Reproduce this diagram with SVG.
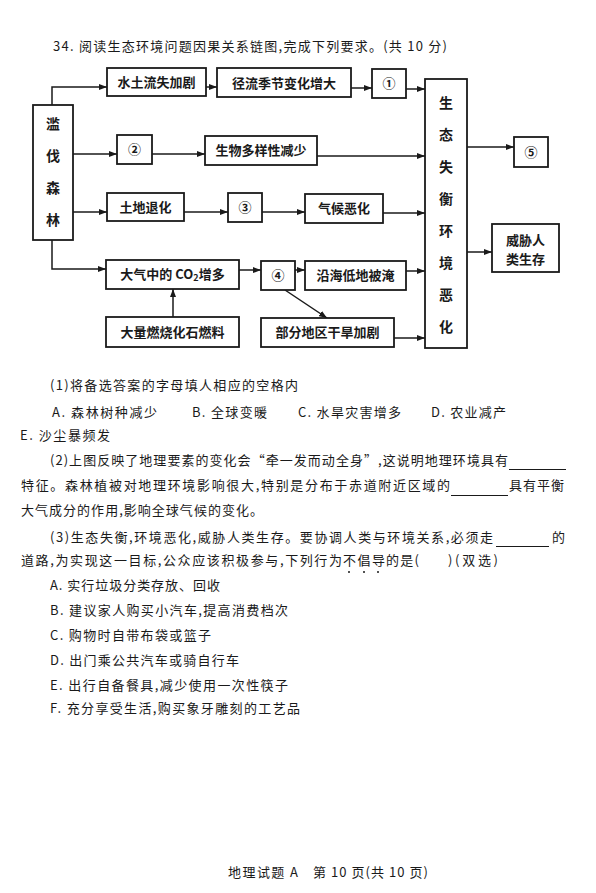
<svg xmlns="http://www.w3.org/2000/svg" width="596" height="893" viewBox="0 0 596 893">
<defs>
<style>
text{font-family:"Noto Sans CJK SC","Liberation Sans",sans-serif;fill:#1a1a1a}
.t{font-size:13px}
.b{font-size:13px;font-weight:bold;text-anchor:middle}
.v{font-size:14px;font-weight:bold;text-anchor:middle}
.box{fill:#fff;stroke:#1a1a1a;stroke-width:1.8}
.ln{fill:none;stroke:#1a1a1a;stroke-width:1.5}
.ul{stroke:#1a1a1a;stroke-width:1}
</style>
<marker id="ah" markerWidth="8" markerHeight="6" refX="8" refY="3" orient="auto" markerUnits="userSpaceOnUse">
<path d="M0,0 L8,3 L0,6 Z" fill="#1a1a1a"/>
</marker>
</defs>
<rect width="596" height="893" fill="#fff"/>
<text class="t" x="53" y="51" textLength="394" lengthAdjust="spacing">34. 阅读生态环境问题因果关系链图,完成下列要求。(共 10 分)</text>

<g id="connectors">
<path class="ln" d="M52,105 V87 H107" marker-end="url(#ah)"/>
<path class="ln" d="M206,87 H217" marker-end="url(#ah)"/>
<path class="ln" d="M351,88 H372" marker-end="url(#ah)"/>
<path class="ln" d="M406,89 H425" marker-end="url(#ah)"/>
<path class="ln" d="M73,154 H117" marker-end="url(#ah)"/>
<path class="ln" d="M152,154 H205" marker-end="url(#ah)"/>
<path class="ln" d="M317,156 H425" marker-end="url(#ah)"/>
<path class="ln" d="M467,147 H514" marker-end="url(#ah)"/>
<path class="ln" d="M73,212 H107" marker-end="url(#ah)"/>
<path class="ln" d="M184,212 H228" marker-end="url(#ah)"/>
<path class="ln" d="M262,212 H305" marker-end="url(#ah)"/>
<path class="ln" d="M383,213 H425" marker-end="url(#ah)"/>
<path class="ln" d="M52,240 V269 H106" marker-end="url(#ah)"/>
<path class="ln" d="M239,270 H261" marker-end="url(#ah)"/>
<path class="ln" d="M295,270 H305" marker-end="url(#ah)"/>
<path class="ln" d="M406,271 H425" marker-end="url(#ah)"/>
<path class="ln" d="M173,317 V289" marker-end="url(#ah)"/>
<path class="ln" d="M285,290 L327,318" marker-end="url(#ah)"/>
<path class="ln" d="M394,338 H425" marker-end="url(#ah)"/>
<path class="ln" d="M467,252 H492" marker-end="url(#ah)"/>
</g>

<g id="n-lanfa">
<rect class="box" x="33" y="105" width="40" height="135"/>
<text class="v" x="53" y="129">滥</text>
<text class="v" x="53" y="161">伐</text>
<text class="v" x="53" y="193">森</text>
<text class="v" x="53" y="225">林</text>
</g>
<g id="n-shuitu">
<rect class="box" x="107" y="68" width="99" height="28"/>
<text class="b" x="156.5" y="87">水土流失加剧</text>
</g>
<g id="n-jingliu">
<rect class="box" x="217" y="68" width="134" height="29"/>
<text class="b" x="284" y="87.5">径流季节变化增大</text>
</g>
<g id="n-1">
<rect class="box" x="372" y="69" width="34" height="29"/>
<text class="b" x="389" y="88">①</text>
</g>
<g id="n-shengtai">
<rect class="box" x="425" y="79" width="42" height="269"/>
<text class="v" x="446" y="108">生</text>
<text class="v" x="446" y="140">态</text>
<text class="v" x="446" y="172">失</text>
<text class="v" x="446" y="204">衡</text>
<text class="v" x="446" y="236">环</text>
<text class="v" x="446" y="268">境</text>
<text class="v" x="446" y="300">恶</text>
<text class="v" x="446" y="332">化</text>
</g>
<g id="n-5">
<rect class="box" x="514" y="137" width="34" height="30"/>
<text class="b" x="531" y="156.5">⑤</text>
</g>
<g id="n-2">
<rect class="box" x="117" y="135" width="35" height="29"/>
<text class="b" x="134.5" y="154">②</text>
</g>
<g id="n-shengwu">
<rect class="box" x="205" y="136" width="112" height="29"/>
<text class="b" x="261" y="155">生物多样性减少</text>
</g>
<g id="n-tudi">
<rect class="box" x="107" y="193" width="77" height="28"/>
<text class="b" x="145.5" y="211.5">土地退化</text>
</g>
<g id="n-3">
<rect class="box" x="228" y="193" width="34" height="29"/>
<text class="b" x="245" y="212">③</text>
</g>
<g id="n-qihou">
<rect class="box" x="305" y="194" width="78" height="29"/>
<text class="b" x="344" y="213">气候恶化</text>
</g>
<g id="n-co2">
<rect class="box" x="106" y="260" width="133" height="29"/>
<text class="b" x="172.5" y="279">大气中的 CO<tspan font-size="9" dy="2">2</tspan><tspan dy="-2">增多</tspan></text>
</g>
<g id="n-4">
<rect class="box" x="261" y="261" width="34" height="29"/>
<text class="b" x="278" y="280">④</text>
</g>
<g id="n-yanhai">
<rect class="box" x="305" y="261" width="101" height="29"/>
<text class="b" x="355.5" y="280">沿海低地被淹</text>
</g>
<g id="n-ranshao">
<rect class="box" x="106" y="317" width="133" height="30"/>
<text class="b" x="172.5" y="336.5">大量燃烧化石燃料</text>
</g>
<g id="n-ganhan">
<rect class="box" x="261" y="318" width="133" height="29"/>
<text class="b" x="327.5" y="337">部分地区干旱加剧</text>
</g>
<g id="n-weixie">
<rect class="box" x="492" y="224" width="67" height="48"/>
<text class="b" x="525.5" y="245">威胁人</text>
<text class="b" x="525.5" y="264">类生存</text>
</g>

<g id="questions">
<text class="t" x="50" y="390" textLength="248" lengthAdjust="spacing">(1)将备选答案的字母填人相应的空格内</text>
<text class="t" x="52" y="417" textLength="105" lengthAdjust="spacing">A. 森林树种减少</text>
<text class="t" x="192" y="417" textLength="75" lengthAdjust="spacing">B. 全球变暖</text>
<text class="t" x="298" y="417" textLength="103" lengthAdjust="spacing">C. 水旱灾害增多</text>
<text class="t" x="431" y="417" textLength="75" lengthAdjust="spacing">D. 农业减产</text>
<text class="t" x="20" y="440" textLength="90" lengthAdjust="spacing">E. 沙尘暴频发</text>
<text class="t" x="50" y="465" textLength="458" lengthAdjust="spacing">(2)上图反映了地理要素的变化会“牵一发而动全身”,这说明地理环境具有</text>
<line class="ul" x1="509" y1="469.5" x2="566" y2="469.5"/>
<text class="t" x="21" y="490" textLength="429" lengthAdjust="spacing">特征。森林植被对地理环境影响很大,特别是分布于赤道附近区域的</text>
<line class="ul" x1="451" y1="495.5" x2="508" y2="495.5"/>
<text class="t" x="509" y="490" textLength="55" lengthAdjust="spacing">具有平衡</text>
<text class="t" x="21" y="515" textLength="242" lengthAdjust="spacing">大气成分的作用,影响全球气候的变化。</text>
<text class="t" x="50" y="542" textLength="443" lengthAdjust="spacing">(3)生态失衡,环境恶化,威胁人类生存。要协调人类与环境关系,必须走</text>
<line class="ul" x1="496" y1="546.5" x2="549" y2="546.5"/>
<text class="t" x="552" y="542">的</text>
<text class="t" x="21" y="565" textLength="321" lengthAdjust="spacing">道路,为实现这一目标,公众应该积极参与,下列行为</text>
<text class="t" x="343" y="565" textLength="42" lengthAdjust="spacing">不倡导</text>
<text class="t" x="386" y="565" textLength="33" lengthAdjust="spacing">的是(</text>
<text class="t" x="448" y="565" textLength="50" lengthAdjust="spacing">)(双选)</text>
<circle cx="349" cy="572" r="1" fill="#1a1a1a"/>
<circle cx="364" cy="572" r="1" fill="#1a1a1a"/>
<circle cx="378" cy="572" r="1" fill="#1a1a1a"/>
<text class="t" x="50" y="590" textLength="170" lengthAdjust="spacing">A. 实行垃圾分类存放、回收</text>
<text class="t" x="50" y="615" textLength="238" lengthAdjust="spacing">B. 建议家人购买小汽车,提高消费档次</text>
<text class="t" x="50" y="640" textLength="161" lengthAdjust="spacing">C. 购物时自带布袋或篮子</text>
<text class="t" x="50" y="665" textLength="189" lengthAdjust="spacing">D. 出门乘公共汽车或骑自行车</text>
<text class="t" x="50" y="690" textLength="238" lengthAdjust="spacing">E. 出行自备餐具,减少使用一次性筷子</text>
<text class="t" x="50" y="713" textLength="250" lengthAdjust="spacing">F. 充分享受生活,购买象牙雕刻的工艺品</text>
<text class="t" x="228" y="877" textLength="70" lengthAdjust="spacing">地理试题 A</text>
<text class="t" x="313" y="877" textLength="115" lengthAdjust="spacing">第 10 页(共 10 页)</text>
</g>
</svg>
